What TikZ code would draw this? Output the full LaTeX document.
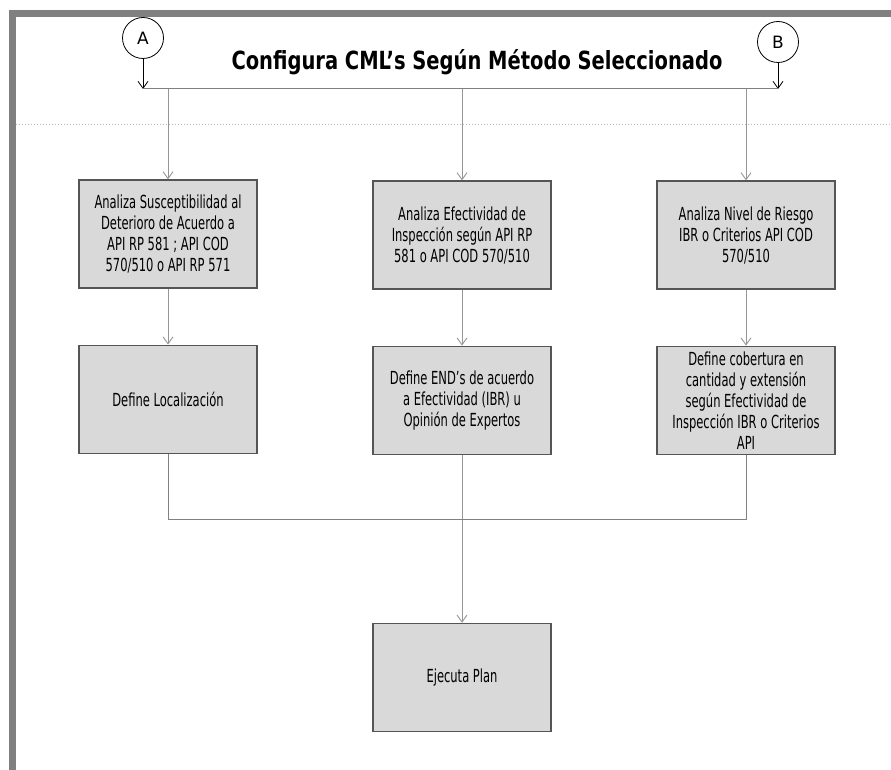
\documentclass[tikz,border=0pt]{standalone}
\usepackage{fontspec}
\setmainfont{DejaVu Sans}
\newfontfamily\boxfont[FakeStretch=0.64]{DejaVu Sans}
\newfontfamily\titlefont[FakeStretch=0.78]{DejaVu Sans}
\usetikzlibrary{arrows.meta,positioning}
\definecolor{framegray}{RGB}{128,128,128}
\definecolor{boxfill}{RGB}{217,217,217}
\definecolor{boxline}{RGB}{85,85,85}
\definecolor{linkgray}{RGB}{150,150,150}
\tikzset{
    %Define standard arrow tip
    >={Straight Barb[length=7pt,width=10pt]},
    %Define style for boxes
    process/.style={
           rectangle,
           draw=boxline, line width=1.2pt,
           fill=boxfill,
           minimum width=178pt,
           minimum height=108pt,
           inner sep=0pt,
           align=center,
           font=\boxfont\fontsize{18}{21}\selectfont},
    connector/.style={
           circle,
           draw=black, line width=0.8pt,
           minimum size=41pt,
           inner sep=0pt,
           font=\fontsize{17}{20}\selectfont},
    % Define arrow style
    link/.style={
           ->,
           color=linkgray,
           line width=0.9pt}
}
\begin{document}
\begin{tikzpicture}[x=1pt,y=-1pt,node distance=56pt]
\useasboundingbox (0,0) rectangle (891,770);
\fill[framegray] (9,10) rectangle (891,17);
\fill[framegray] (9,10) rectangle (16,770);
\draw[linkgray!70, dotted, line width=1pt] (16,125) -- (891,125);

 %nodes
\node[connector] (A) at (143,38) {A};
\node[connector] (B) at (778,42) {B};
\node[font=\titlefont\bfseries\fontsize{25}{30}\selectfont] (title) at (477,62)
  {Configura CML’s Según Método Seleccionado};
\coordinate (top left) at (143,89);
\coordinate (top right) at (778,89);
\coordinate (merge) at (0,519);

\node[process] (analiza1) at (168,234) {Analiza Susceptibilidad al\\Deterioro de Acuerdo a\\API RP 581 ; API COD\\570/510 o API RP 571};
\node[process] (analiza2) at (462,235) {Analiza Efectividad de\\Inspección según API RP\\581 o API COD 570/510};
\node[process] (analiza3) at (746,235) {Analiza Nivel de Riesgo\\IBR o Criterios API COD\\570/510};
\node[process, below=of analiza1] (define1) {Define Localización};
\node[process, below=of analiza2] (define2) {Define END’s de acuerdo\\a Efectividad (IBR) u\\Opinión de Expertos};
\node[process, below=of analiza3] (define3) {Define cobertura en\\cantidad y extensión\\según Efectividad de\\Inspección IBR o Criterios\\API};
\node[process, below=168pt of define2] (ejecuta) {Ejecuta Plan};

 %connectors
\draw[->, line width=0.8pt] (A) -- (top left);
\draw[->, line width=0.8pt] (B) -- (top right);
\draw[linkgray!120, line width=1pt] (top left) -- (top right);
\path[link]
    (analiza1.north |- top left) edge (analiza1)
    (analiza2.north |- top left) edge (analiza2)
    (analiza3.north |- top left) edge (analiza3)
    (analiza1) edge (define1)
    (analiza2) edge (define2)
    (analiza3) edge (define3)
    (define2) edge (ejecuta);
\draw[linkgray!120, line width=1pt] (define1) -- (define1.south |- merge) -- (define3.south |- merge) -- (define3);
\end{tikzpicture}
\end{document}
